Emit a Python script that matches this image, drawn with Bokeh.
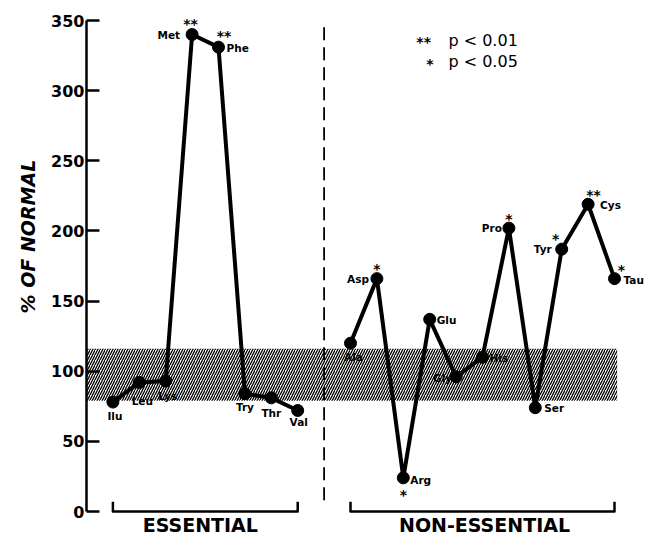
from bokeh.plotting import figure
from bokeh.models import ColumnDataSource, Range1d, FixedTicker, Label, Title
from bokeh.core.properties import value
from bokeh.embed import file_html
from bokeh.resources import INLINE

# ---------------- data ----------------
essential_names = ["Ilu", "Leu", "Lys", "Met", "Phe", "Try", "Thr", "Val"]
essential_values = [78, 92, 93, 340, 331, 84, 81, 72]
essential_sig = ["", "", "", "**", "**", "", "", ""]

nonessential_names = ["Ala", "Asp", "Arg", "Glu", "Gly", "His", "Pro", "Ser", "Tyr", "Cys", "Tau"]
nonessential_values = [120, 166, 24, 137, 96, 110, 202, 74, 187, 219, 166]
nonessential_sig = ["", "*", "*", "", "", "", "*", "", "*", "**", "*"]

normal_low = 79
normal_high = 116

y_ticks = [0, 50, 100, 150, 200, 250, 300, 350]
y_title = "% OF NORMAL"
group_labels = ["ESSENTIAL", "NON-ESSENTIAL"]
legend_marks = ["**", "*"]
legend_texts = ["p < 0.01", "p < 0.05"]

# ---------------- label placement (pixels, styling only) ----------------
name_place = {
    "Ilu": (2, 8, "center", "top"), "Leu": (3, 13, "center", "top"),
    "Lys": (2, 9, "center", "top"), "Met": (-12, 0, "right", "middle"),
    "Phe": (8, 1, "left", "middle"), "Try": (0, 7, "center", "top"),
    "Thr": (0, 9, "center", "top"), "Val": (1, 6, "center", "top"),
    "Ala": (3, 8, "center", "top"), "Asp": (-8, 0, "right", "middle"),
    "Arg": (7, 2, "left", "middle"), "Glu": (7, 1, "left", "middle"),
    "Gly": (-4, 1, "right", "middle"), "His": (7, 1, "left", "middle"),
    "Pro": (-7, 0, "right", "middle"), "Ser": (9, 0, "left", "middle"),
    "Tyr": (-10, 0, "right", "middle"), "Cys": (12, 1, "left", "middle"),
    "Tau": (9, 1, "left", "middle"),
}
star_place = {
    "Met": (-1.5, -13.5), "Phe": (5.5, -14.5), "Asp": (0, -12.5),
    "Arg": (0, 14.5), "Pro": (0, -12), "Tyr": (-6, -13),
    "Cys": (5.5, -12), "Tau": (7, -11.5),
}
STAR_SHIFT = 3  # asterisk glyph sits above the em-box middle

FONT = "DejaVu Sans"
n_e = len(essential_names)
x_e = list(range(1, n_e + 1))
divider_x = n_e + 1
x_n = list(range(divider_x + 1, divider_x + 1 + len(nonessential_names)))

p = figure(width=646, height=536, output_backend="svg", toolbar_location=None,
           x_range=Range1d(0, 21.212), y_range=Range1d(-17.82, 364.26),
           x_axis_location=None, min_border=0, min_border_left=86,
           outline_line_color=None)
p.grid.visible = False

# y axis
ax = p.yaxis[0]
ax.ticker = FixedTicker(ticks=y_ticks)
ax.bounds = (y_ticks[0], y_ticks[-1])
ax.major_tick_in = 13
ax.major_tick_out = 0
ax.minor_tick_line_color = None
ax.axis_line_width = 2.5
ax.major_tick_line_width = 2.5
ax.axis_line_color = "black"
ax.major_tick_line_color = "black"
ax.major_label_text_font = FONT
ax.major_label_text_font_style = "bold"
ax.major_label_text_font_size = "16px"
ax.major_label_text_color = "black"
ax.major_label_standoff = 2

# y title as a left-side title (rotated)
p.add_layout(Title(text=y_title, align="left", offset=223, standoff=20,
                   text_font=FONT, text_font_style="bold italic",
                   text_font_size="19px", text_color="black"), "left")

# normal range band (hatched)
p.quad(left=[0], right=[x_n[-1] + 0.1], bottom=[normal_low], top=[normal_high],
       fill_alpha=0, line_alpha=0, hatch_pattern="/", hatch_color="black",
       hatch_weight=1.3, hatch_scale=5)

# divider
p.segment(x0=[divider_x], y0=[8], x1=[divider_x], y1=[y_ticks[-1]],
          line_color="black", line_width=1.8, line_dash="13 7")

# brackets
bx, by = [], []
for xs in (x_e, x_n):
    bx.append([xs[0], xs[0], xs[-1], xs[-1]])
    by.append([7, 0, 0, 7])
p.multi_line(xs=bx, ys=by, line_color="black", line_width=2.5, line_join="round")

# group labels
p.text(x=[(x_e[0] + x_e[-1]) / 2, (x_n[0] + x_n[-1]) / 2], y=[0, 0], text=group_labels,
       x_offset=[-5, 2], y_offset=[13, 13],
       text_font=value(FONT), text_font_style="bold", text_font_size="19px",
       text_align="center", text_baseline="middle", text_color="black")

# series
for xs, vals, names, sigs in ((x_e, essential_values, essential_names, essential_sig),
                              (x_n, nonessential_values, nonessential_names, nonessential_sig)):
    src = ColumnDataSource(dict(x=xs, y=vals))
    p.line("x", "y", source=src, line_color="black", line_width=4, line_join="round")
    p.scatter("x", "y", source=src, size=12, fill_color="black", line_color="black")
    for align in ("left", "right", "center"):
        for base in ("top", "middle"):
            sel = [i for i, nm in enumerate(names)
                   if name_place[nm][2] == align and name_place[nm][3] == base]
            if not sel:
                continue
            ls = ColumnDataSource(dict(
                x=[xs[i] for i in sel], y=[vals[i] for i in sel],
                t=[names[i] for i in sel],
                dx=[name_place[names[i]][0] for i in sel],
                dy=[name_place[names[i]][1] for i in sel]))
            p.text("x", "y", text="t", source=ls, x_offset="dx", y_offset="dy",
                   text_font=value(FONT), text_font_style="bold", text_font_size="10.5px",
                   text_align=align, text_baseline=base, text_color="black")
    sel = [i for i, s in enumerate(sigs) if s]
    ss = ColumnDataSource(dict(
        x=[xs[i] for i in sel], y=[vals[i] for i in sel], t=[sigs[i] for i in sel],
        dx=[star_place[names[i]][0] for i in sel],
        dy=[star_place[names[i]][1] + STAR_SHIFT for i in sel]))
    p.text("x", "y", text="t", source=ss, x_offset="dx", y_offset="dy",
           text_font=value(FONT), text_font_style="bold", text_font_size="14px",
           text_align="center", text_baseline="middle", text_color="black")

# significance legend
for mark, txt, mx, my, ty in zip(legend_marks, legend_texts, [12.77, 13.01],
                                 [334.6, 319.0], [335.7, 320.8]):
    p.add_layout(Label(x=mx, y=my, text=mark, text_font=FONT, text_font_style="bold",
                       text_font_size="14px", text_align="center",
                       text_baseline="middle", text_color="black"))
    p.add_layout(Label(x=13.71, y=ty, text=txt, text_font=FONT,
                       text_font_size="16px", text_align="left",
                       text_baseline="middle", text_color="black"))

open("out.html", "w").write(file_html(p, INLINE))
